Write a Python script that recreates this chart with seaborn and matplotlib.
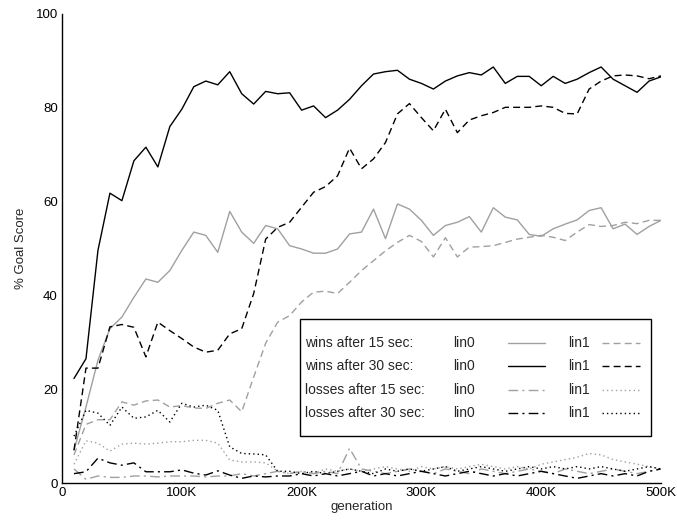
import matplotlib
matplotlib.use("Agg")
import matplotlib.pyplot as plt
from matplotlib.lines import Line2D
from matplotlib.patches import Rectangle
import seaborn as sns
import numpy as np
import pandas as pd

generation = [10000 * i for i in range(1, 51)]

wins15_lin0 = [7, 16.2, 26.2, 32.9, 35.4, 39.6, 43.5, 42.8, 45.3, 49.6,
               53.5, 52.8, 49.2, 57.9, 53.5, 51.1, 54.9, 54.2, 50.6, 49.9,
               49.0, 49.0, 49.9, 53.1, 53.5, 58.4, 52.1, 59.5, 58.4, 56.0,
               52.8, 54.9, 55.6, 56.8, 53.5, 58.7, 56.7, 56.1, 53.0, 52.6,
               54.2, 55.2, 56.1, 58.1, 58.7, 54.2, 55.2, 53.0, 54.7, 56.0]
wins15_lin1 = [6, 12.5, 13.5, 13.5, 17.3, 16.6, 17.5, 17.7, 16.2, 16.5,
               16.0, 15.9, 17.0, 17.7, 15.2, 22.6, 29.8, 34.3, 35.7, 38.6,
               40.7, 40.9, 40.4, 42.8, 45.3, 47.4, 49.5, 51.3, 52.8, 51.5,
               48.2, 52.3, 48.2, 50.3, 50.4, 50.6, 51.3, 52.0, 52.4, 52.8,
               52.4, 51.7, 53.5, 55.1, 54.7, 54.9, 55.6, 55.3, 56.0, 56.0]
wins30_lin0 = [22.3, 26.5, 49.6, 61.8, 60.2, 68.7, 71.6, 67.4, 76.0, 79.7,
               84.5, 85.7, 84.9, 87.7, 83.0, 80.8, 83.5, 83.0, 83.2, 79.5,
               80.4, 77.9, 79.5, 81.8, 84.7, 87.2, 87.7, 88.0, 86.1, 85.2,
               84.0, 85.7, 86.8, 87.5, 87.0, 88.7, 85.2, 86.7, 86.7, 84.7,
               86.7, 85.2, 86.1, 87.5, 88.7, 86.1, 84.7, 83.3, 85.7, 86.6]
wins30_lin1 = [7, 24.5, 24.5, 33.3, 33.8, 33.2, 26.9, 34.3, 32.5, 30.8,
               29.0, 27.9, 28.3, 31.8, 32.9, 40.4, 52.0, 54.5, 55.6, 58.8,
               62.0, 63.2, 65.5, 71.4, 67.0, 69.1, 72.6, 78.7, 80.9, 77.9,
               75.1, 79.7, 74.7, 77.4, 78.3, 79.0, 80.1, 80.1, 80.1, 80.4,
               80.1, 78.8, 78.7, 84.0, 85.7, 86.8, 87.0, 86.8, 86.2, 86.8]
losses15_lin0 = [3, 0.8, 1.5, 1.2, 1.2, 1.5, 1.5, 1.3, 1.5, 1.5,
                 1.5, 1.3, 1.5, 1.5, 2.0, 1.5, 2.0, 2.5, 2.0, 2.5,
                 2.0, 2.5, 2.0, 7.4, 3.0, 2.5, 2.0, 2.5, 3.0, 2.5,
                 2.0, 3.0, 2.5, 2.0, 3.0, 2.5, 2.0, 2.5, 3.0, 2.5,
                 2.0, 3.0, 2.5, 2.0, 2.5, 3.0, 2.5, 2.0, 2.5, 3.0]
losses15_lin1 = [4, 9.0, 8.5, 6.8, 8.3, 8.5, 8.3, 8.5, 8.8, 8.8,
                 9.1, 9.1, 8.5, 4.9, 4.5, 4.5, 4.3, 2.5, 2.0, 2.5,
                 2.0, 3.0, 2.5, 3.0, 2.5, 3.0, 3.5, 3.0, 2.5, 3.5,
                 3.0, 3.5, 3.0, 3.5, 4.0, 3.5, 3.0, 3.5, 3.0, 4.0,
                 4.5, 5.0, 5.5, 6.3, 6.0, 5.0, 4.5, 4.0, 3.5, 3.0]
losses30_lin0 = [2, 2.4, 5.3, 4.3, 3.8, 4.3, 2.4, 2.4, 2.4, 2.8,
                 2.1, 1.7, 2.6, 1.7, 1.0, 1.5, 1.3, 1.5, 1.5, 2.0,
                 1.5, 2.0, 1.5, 2.0, 2.5, 1.5, 2.0, 1.5, 2.0, 2.5,
                 2.0, 1.5, 2.0, 2.5, 2.0, 1.5, 2.0, 1.5, 2.0, 2.5,
                 2.0, 1.5, 1.0, 1.5, 2.0, 1.5, 2.0, 1.5, 2.5, 3.0]
losses30_lin1 = [10, 15.5, 14.9, 12.3, 16.2, 13.8, 14.1, 15.5, 13.0, 17.0,
                 16.2, 16.6, 15.5, 7.7, 6.3, 6.2, 6.0, 2.5, 2.5, 2.0,
                 2.5, 2.0, 2.5, 3.0, 2.5, 2.0, 3.0, 2.5, 3.0, 2.5,
                 3.0, 3.5, 2.5, 3.0, 3.5, 3.0, 2.5, 3.0, 3.5, 3.0,
                 3.5, 3.0, 3.5, 3.0, 3.5, 3.0, 2.5, 3.0, 3.5, 3.0]

x_ticks = [0, 100000, 200000, 300000, 400000, 500000]
x_ticklabels = ["0", "100K", "200K", "300K", "400K", "500K"]
y_ticks = [0, 20, 40, 60, 80, 100]

legend_rows = ["wins after 15 sec:", "wins after 30 sec:",
               "losses after 15 sec:", "losses after 30 sec:"]
legend_col0 = "lin0"
legend_col1 = "lin1"

sns.set_style("white")
plt.rcParams['font.family'] = ['Liberation Sans', 'DejaVu Sans']

GRAY = "#a0a0a0"
BLACK = "#000000"
SOLID = "-"
DASH = (0, (5, 3))
DASHDOT = (0, (7, 3, 1.5, 3))
DOT = (0, (1, 2.2))

fig = plt.figure(figsize=(6.77, 5.26), dpi=100)
ax = fig.add_axes([0.0916, 0.0817, 0.8848, 0.8917])

series = [
    (wins15_lin0, GRAY, SOLID),
    (wins30_lin0, BLACK, SOLID),
    (losses15_lin0, GRAY, DASHDOT),
    (losses30_lin0, BLACK, DASHDOT),
    (wins15_lin1, GRAY, DASH),
    (wins30_lin1, BLACK, DASH),
    (losses15_lin1, GRAY, DOT),
    (losses30_lin1, BLACK, DOT),
]
for vals, col, ls in series:
    df = pd.DataFrame({"generation": generation, "score": vals})
    sns.lineplot(data=df, x="generation", y="score", ax=ax, color=col,
                 linestyle=ls, linewidth=1.0, errorbar=None)

ax.set_xlim(0, 500000)
ax.set_ylim(0, 100)
ax.set_xticks(x_ticks)
ax.set_xticklabels(x_ticklabels)
ax.set_yticks(y_ticks)
ax.set_xlabel("generation", fontsize=9.5, labelpad=1)
ax.set_ylabel("% Goal Score", fontsize=9.5, labelpad=6)
for s in ["top", "right"]:
    ax.spines[s].set_visible(False)
for s in ["left", "bottom"]:
    ax.spines[s].set_color("black")
    ax.spines[s].set_linewidth(1.0)
ax.tick_params(direction="in", length=6, width=1, color="black",
               labelsize=9.5, pad=3, labelcolor="black")

# legend table (label, lin0 sample, lin1 sample) in a framed box
box = Rectangle((0.3973, 0.100), 0.586, 0.2497, transform=ax.transAxes,
                facecolor="white", edgecolor="black", linewidth=1.0, zorder=5)
ax.add_patch(box)
row_y = [0.2985, 0.2495, 0.1983, 0.1493]
for i, (label, yy) in enumerate(zip(legend_rows, row_y)):
    _, c0, s0 = series[i]
    _, c1, s1 = series[i + 4]
    ax.text(0.4057, yy, label, transform=ax.transAxes, ha="left",
            va="center", fontsize=10, zorder=6)
    ax.text(0.6895, yy, legend_col0, transform=ax.transAxes, ha="right",
            va="center", fontsize=10, zorder=6)
    ax.text(0.8447, yy, legend_col1, transform=ax.transAxes, ha="left",
            va="center", fontsize=10, zorder=6)
    for col, ls, xa, xb in [(c0, s0, 0.7446, 0.8063), (c1, s1, 0.9015, 0.9649)]:
        ax.add_line(Line2D([xa, xb], [yy, yy], transform=ax.transAxes,
                           color=col, linestyle=ls, linewidth=1.0, zorder=6))

fig.savefig("out.png", dpi=100)
